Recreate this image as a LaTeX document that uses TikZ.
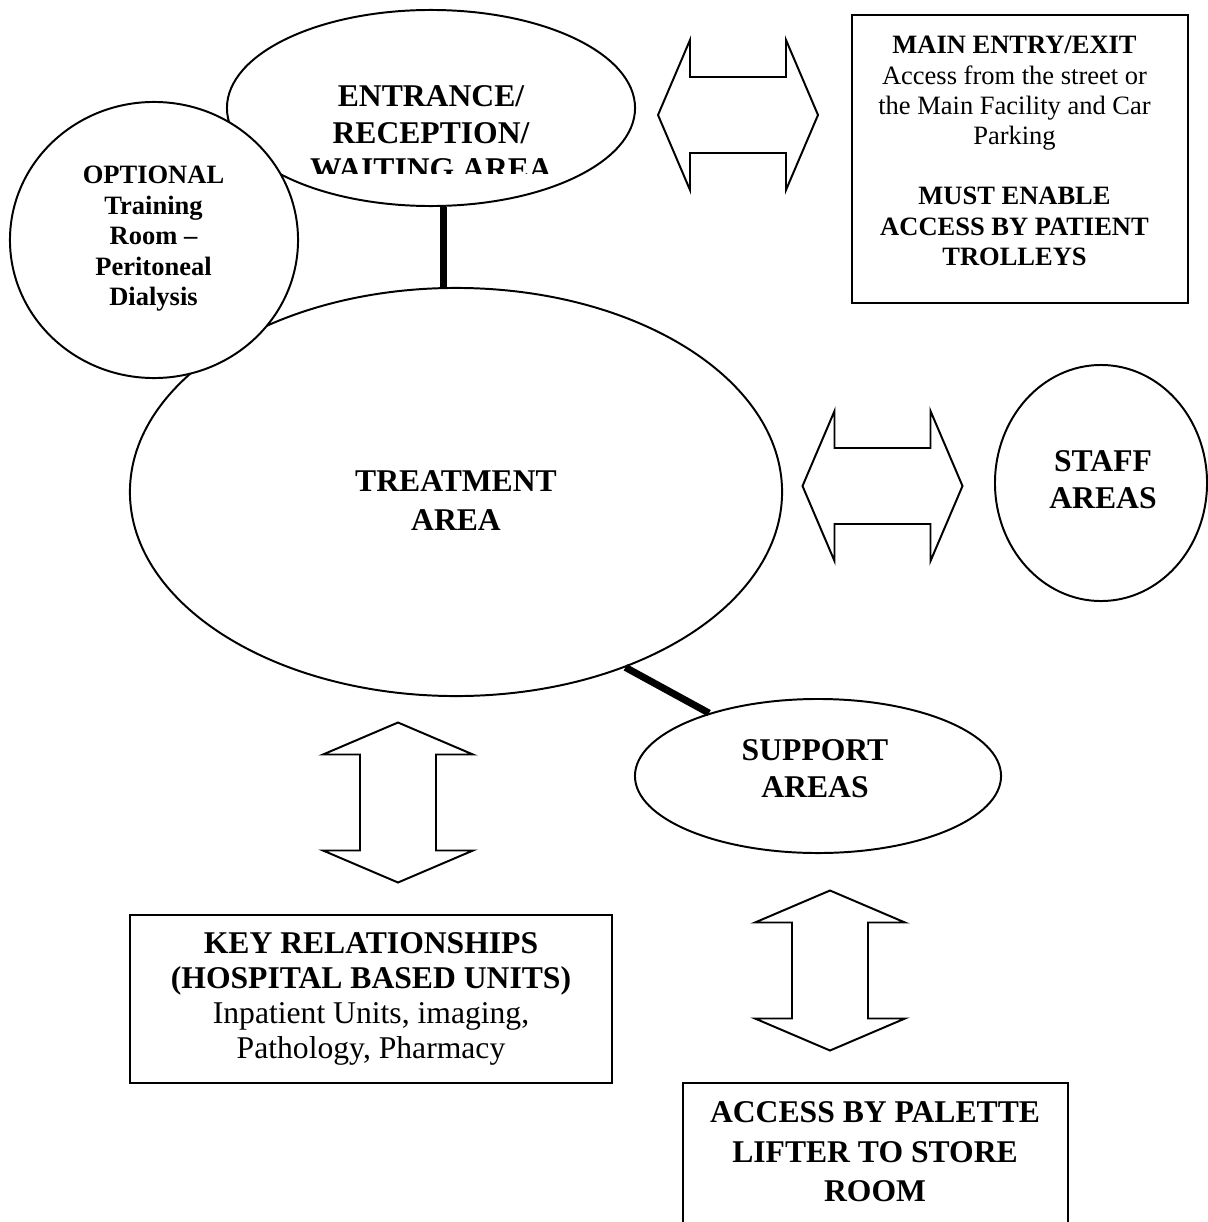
\documentclass[tikz,border=0pt]{standalone}
\usepackage{fontspec}
\setmainfont{Liberation Serif}
\usetikzlibrary{shapes.geometric}

\tikzset{
  % two-way block arrow, 160 long and 150 across the heads
  pics/twoway/.style={code={
    \draw[line width=1.4pt,line join=miter]
      (-80,0) -- (-48,-75) -- (-48,-38) -- (48,-38) -- (48,-75) -- (80,0)
      -- (48,75) -- (48,38) -- (-48,38) -- (-48,75) -- cycle;
  }}
}

\begin{document}
\begin{tikzpicture}[x=0.025cm,y=-0.025cm,line join=miter,
    area/.style={ellipse,draw,line width=1.4pt,fill=white,inner sep=0pt},
    frame/.style={rectangle,draw,line width=1.6pt,fill=white,inner sep=0pt},
    link/.style={line width=5pt},
    big/.style={font=\fontsize{22.5}{26}\selectfont\bfseries,align=center,inner sep=0pt},
    small/.style={font=\fontsize{18.85}{21.5}\selectfont,align=center,inner sep=0pt}]
  \clip (0,0) rectangle (1208,1222);

  % Rooms, drawn back to front
  \node[area,minimum width=10.2cm,minimum height=4.9cm] (entrance) at (431,108) {};
  \begin{scope}
    \clip (227,10) rectangle (635,173);
    \node[big] (entrancetext) at (431,133) {ENTRANCE/\\RECEPTION/\\WAITING AREA};
  \end{scope}
  \node[area,minimum width=16.3cm,minimum height=10.2cm] (treat) at (456,492) {};
  \node[big,font=\fontsize{22.5}{27.7}\selectfont\bfseries] (treattext) at (456,500.5) {TREATMENT\\AREA};

  \draw[link] (entrance.-83) -- (entrance.-83 |- treat.north);

  \node[area,minimum width=7.2cm,minimum height=6.9cm] (optional) at (154,240) {};
  \node[big,font=\fontsize{18.85}{21.7}\selectfont\bfseries] (optionaltext) at (153.5,239)
    {OPTIONAL\\Training\\Room --\\Peritoneal\\Dialysis};

  \node[area,minimum width=9.15cm,minimum height=3.85cm] (support) at (818,776) {};
  \node[big,font=\fontsize{22.5}{26.3}\selectfont\bfseries] (supporttext) at (815,768.5) {SUPPORT\\AREAS};
  \draw[link] (treat.-46.5) -- (support.150.2);

  \node[area,minimum width=5.3cm,minimum height=5.9cm] (staff) at (1101,483) {};
  \node[big,font=\fontsize{22.5}{26.3}\selectfont\bfseries] (stafftext) at (1103,479.5) {STAFF\\AREAS};

  % Boxes
  \node[frame,minimum width=8.4cm,minimum height=7.2cm] (entrybox) at (1020,159) {};
  \node[small] (entrytext) at (1014.5,151)
    {\textbf{MAIN ENTRY/EXIT}\\Access from the street or\\the Main Facility and Car\\Parking\\[21.5pt]
     \textbf{MUST ENABLE}\\\textbf{ACCESS BY PATIENT}\\\textbf{TROLLEYS}};

  \node[frame,big,font=\fontsize{22.5}{24.7}\selectfont,minimum width=12.05cm,minimum height=4.2cm] (keybox) at (371,999)
    {\textbf{KEY RELATIONSHIPS}\\\textbf{(HOSPITAL BASED UNITS)}\\Inpatient Units, imaging,\\Pathology, Pharmacy};

  \node[frame,minimum width=9.625cm,minimum height=4.5cm] (liftbox) at (875.5,1173) {};
  \node[big,font=\fontsize{22.5}{28.1}\selectfont\bfseries] (lifttext) at (875,1152)
    {ACCESS BY PALETTE\\LIFTER TO STORE\\ROOM};

  % Two-way block arrows
  \pic (entryarrow) at (738,115) {twoway};
  \pic (staffarrow) at (882.5,486) {twoway};
  \pic[rotate=90] (keyarrow) at (398,802.5) {twoway};
  \pic[rotate=90] (liftarrow) at (830,970.5) {twoway};
\end{tikzpicture}
\end{document}
